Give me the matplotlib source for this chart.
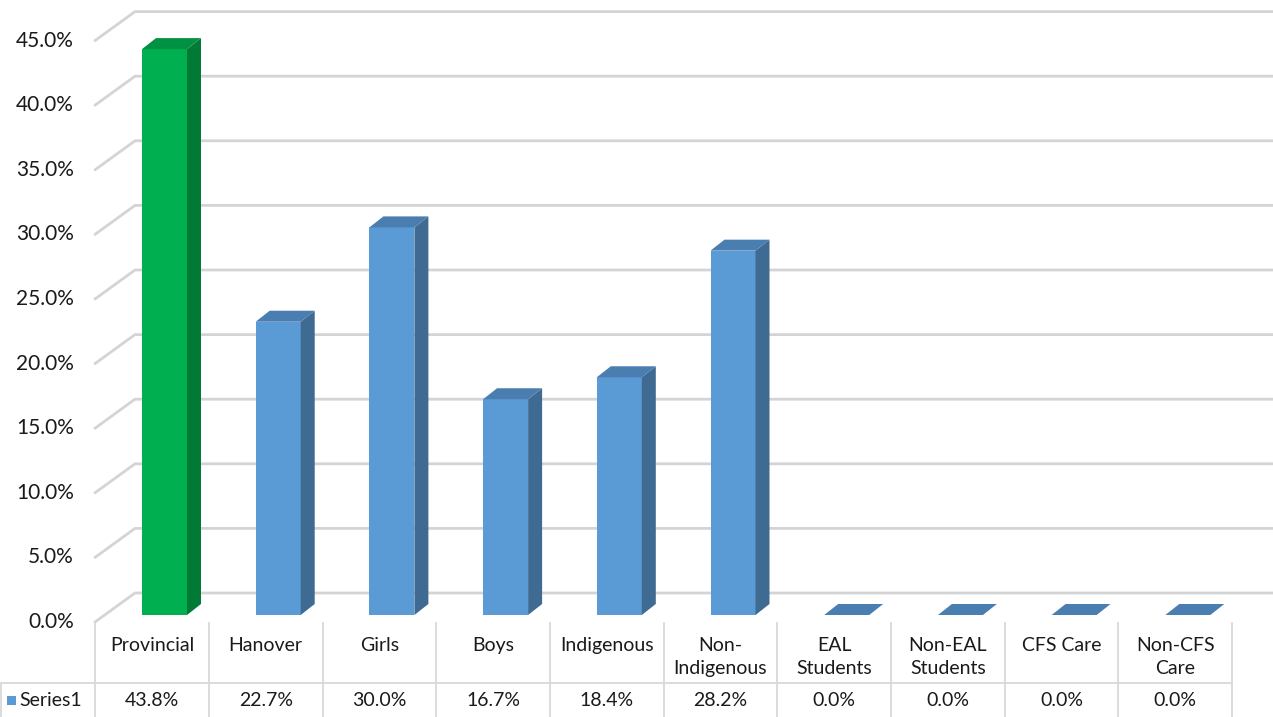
import matplotlib
matplotlib.use('Agg')
import matplotlib.pyplot as plt
from matplotlib.patches import Polygon, Rectangle

plt.rcParams['font.family'] = ['Lato', 'DejaVu Sans']

categories = ['Provincial', 'Hanover', 'Girls', 'Boys', 'Indigenous',
              'Non-\nIndigenous', 'EAL\nStudents', 'Non-EAL\nStudents',
              'CFS Care', 'Non-CFS\nCare']
values = [43.8, 22.7, 30.0, 16.7, 18.4, 28.2, 0.0, 0.0, 0.0, 0.0]
value_labels = ['43.8%', '22.7%', '30.0%', '16.7%', '18.4%', '28.2%',
                '0.0%', '0.0%', '0.0%', '0.0%']
y_ticks = [0, 5, 10, 15, 20, 25, 30, 35, 40, 45]
series_name = 'Series1'

# colours: front, side, top
blue = ('#5b9bd5', '#3f6a92', '#4a7db0')
green = ('#00b050', '#007a35', '#009142')
grid_col = '#d4d4d4'
table_col = '#d9d9d9'
txt_col = '#1a1a1a'

W, H = 1273, 717
PX_CAT = 113.7   # pixels per category
PX_PCT = 12.92   # pixels per percent
X0, Y0 = 152, 615  # pixel of category 0 centre / bar zero level

fig = plt.figure(figsize=(W / 100, H / 100), dpi=100)
ax = fig.add_axes([0, 0, 1, 1])
ax.set_xlim(-X0 / PX_CAT, (W - X0) / PX_CAT)
ax.set_ylim((Y0 - H) / PX_PCT, Y0 / PX_PCT)
ax.axis('off')


def px(x, y):
    # pixel position (from top-left) -> data coords
    return (x - X0) / PX_CAT, (Y0 - y) / PX_PCT


# back wall gridlines with the slanted side wall part
wall_dx = 40 / PX_CAT
wall_dy = 29 / PX_PCT
front_x, front_y0 = px(95, 622)
right_x = ax.get_xlim()[1]
for t in y_ticks:
    fy = front_y0 + t
    ax.plot([front_x, front_x + wall_dx, right_x],
            [fy, fy + wall_dy, fy + wall_dy],
            color=grid_col, lw=2, solid_capstyle='round', zorder=1)
    ax.text(px(74, 0)[0], fy, f'{t:.1f}%', ha='right', va='center',
            fontsize=15, color=txt_col)

# bars
bar_off = -10 / PX_CAT
bar_w = 45 / PX_CAT
dk = 14 / PX_CAT
dv = 11 / PX_PCT
for i, v in enumerate(values):
    front, side, top = green if i == 0 else blue
    x0 = i + bar_off
    x1 = x0 + bar_w
    if v > 0:
        ax.add_patch(Rectangle((x0, 0), bar_w, v, facecolor=front,
                               edgecolor='none', zorder=3))
        ax.add_patch(Polygon([(x1, 0), (x1 + dk, dv), (x1 + dk, v + dv), (x1, v)],
                             facecolor=side, edgecolor='none', zorder=3))
    ax.add_patch(Polygon([(x0, v), (x1, v), (x1 + dk, v + dv), (x0 + dk, v + dv)],
                         facecolor=top, edgecolor='none', zorder=3))

# data table
n = len(categories)
_, head_top = px(0, 623)
_, row_line = px(0, 683)
_, bottom = px(0, 717)
table_right = n - 0.5
for k in range(n + 1):
    ax.plot([k - 0.5, k - 0.5], [head_top, bottom], color=table_col, lw=1.3, zorder=2)
ax.plot([px(1, 0)[0], table_right], [row_line, row_line], color=table_col, lw=1.3)
ax.plot([px(1, 0)[0]] * 2, [row_line, bottom], color=table_col, lw=1.3)

_, name_y = px(0, 637)
_, val_y = px(0, 700)
for k, (c, lab) in enumerate(zip(categories, value_labels)):
    ax.text(k, name_y, c, ha='center', va='top', fontsize=14,
            color=txt_col, linespacing=1.45)
    ax.text(k, val_y, lab, ha='center', va='center', fontsize=14, color=txt_col)

kx, ky = px(7, 705)
ax.add_patch(Rectangle((kx, ky), 9 / PX_CAT, 9 / PX_PCT, facecolor=blue[0],
                       edgecolor='none'))
ax.text(px(19, 0)[0], val_y, series_name, ha='left', va='center',
        fontsize=14, color=txt_col)

fig.savefig('out.png', dpi=100)
